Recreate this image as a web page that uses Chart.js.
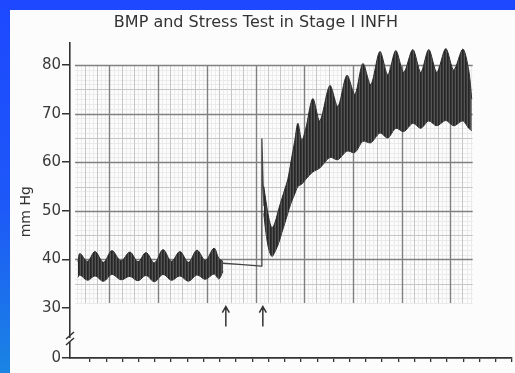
<!DOCTYPE html>
<html>
<head>
<meta charset="utf-8">
<title>BMP and Stress Test in Stage I INFH</title>
<script src="https://cdn.jsdelivr.net/npm/chart.js@4.4.0/dist/chart.umd.min.js"></script>
<style>
  html, body { margin: 0; padding: 0; }
  body {
    width: 515px; height: 373px; overflow: hidden; position: relative;
    background: linear-gradient(180deg, #1d48ff 0%, #1d58f8 55%, #1a84e3 100%);
  }
  #paper { position: absolute; left: 10px; top: 10px; right: 0; bottom: 0; background: #fcfcfc; }
  #bmpChart { position: absolute; left: 0; top: 0; }
</style>
</head>
<body>
<div id="paper"></div>
<canvas id="bmpChart" width="515" height="373"></canvas>
<script>
// axis ticks (0 sits below the axis break)
const yTicks = [0, 30, 40, 50, 60, 70, 80];
const xTicks = [0, 1, 2, 3, 4, 5, 6, 7, 8, 9, 10, 11, 12, 13, 14, 15, 16, 17, 18, 19, 20, 21, 22, 23, 24, 25, 26];
const yBreak = 19.7;   // where "0" lands on the compressed part of the axis

// resting trace (band = top / bottom of the pulse envelope)
const restX  = [-0.74, -0.62, -0.15, 0.31, 0.83, 1.35, 1.91, 2.46, 2.96, 3.45, 3.97, 4.50, 5.02, 5.54, 6.07, 6.59, 7.11, 7.64, 7.94, 8.19];
const restHi = [39.5, 41.2, 39.6, 41.6, 39.4, 41.8, 39.7, 41.5, 39.5, 41.4, 39.3, 42.0, 39.6, 41.6, 39.4, 41.9, 39.8, 42.3, 40.2, 39.6];
const restLo = [36.3, 36.8, 35.7, 36.6, 35.5, 36.9, 35.8, 36.5, 35.6, 36.7, 35.4, 36.9, 35.7, 36.6, 35.5, 36.8, 35.9, 37.0, 36.0, 37.5];

// thin pen line between the arrows, with the spike
const penX = [8.19, 9.40, 10.55, 10.59, 10.66, 10.72];
const penY = [39.2, 38.9, 38.6, 64.9, 56.0, 51.0];

// stress response band
const stressX  = [10.71, 10.84, 11.02, 11.21, 11.39, 11.64, 11.82, 12.01, 12.19, 12.38, 12.62, 12.81, 13.05, 13.30, 13.73, 14.16, 14.78, 15.27, 15.83, 16.32, 16.81, 17.30, 17.86, 18.35, 18.84, 19.33, 19.89, 20.38, 20.87, 21.37, 21.92, 22.41, 22.97, 23.33, 23.52];
const stressHi = [55.0, 52.0, 48.5, 46.5, 47.5, 50.5, 52.5, 54.5, 56.5, 60.0, 64.5, 68.0, 64.5, 67.0, 73.1, 68.5, 75.8, 71.5, 77.9, 74.0, 80.3, 76.0, 82.8, 78.0, 83.0, 78.5, 83.2, 78.5, 83.2, 78.5, 83.4, 79.0, 83.3, 79.0, 73.0];
const stressLo = [49.5, 45.5, 42.0, 40.6, 41.5, 43.5, 45.5, 47.5, 49.5, 51.5, 53.5, 55.0, 55.5, 56.5, 58.0, 58.8, 61.0, 60.5, 62.3, 62.0, 64.3, 64.0, 66.0, 65.0, 67.0, 66.3, 68.0, 67.0, 68.5, 67.5, 68.6, 67.5, 68.5, 67.0, 66.5];

// event markers
const arrowX = [8.37, 10.65];

const FONT = 'DejaVu Sans';
const INK = '#333';

const canvas = document.getElementById('bmpChart');

function stripePattern() {
  const c = document.createElement('canvas');
  c.width = 3; c.height = 1;
  const g = c.getContext('2d');
  ['#262626', '#353535', '#555555'].forEach((col, i) => { g.fillStyle = col; g.fillRect(i, 0, 1, 1); });
  return canvas.getContext('2d').createPattern(c, 'repeat');
}
const ink = stripePattern();

const pts = (xs, ys) => xs.map((x, i) => ({ x: x, y: ys[i] }));

// chart paper behind the trace: light lines first, heavy ones last
const paperGrid = {
  id: 'paperGrid',
  beforeDatasetsDraw(chart) {
    const { ctx, scales: { x, y } } = chart;
    const left = x.getPixelForValue(-0.92), right = x.getPixelForValue(23.58);
    const top = y.getPixelForValue(80), bottom = y.getPixelForValue(31);
    const levels = [
      { color: '#ebebeb', width: 1 },
      { color: '#c6c6c6', width: 1 },
      { color: '#808080', width: 1.4 }
    ];
    ctx.save();
    levels.forEach((lv, li) => {
      ctx.strokeStyle = lv.color;
      ctx.lineWidth = lv.width;
      ctx.beginPath();
      for (let k = -8; k <= 90; k++) {
        const v = 1.2 + k * 0.25;
        if (v < -0.92 || v > 23.58) continue;
        const level = k % 12 === 0 ? 2 : (k % 3 === 0 ? 1 : 0);
        if (level !== li) continue;
        const px = Math.round(x.getPixelForValue(v)) + 0.5;
        ctx.moveTo(px, top); ctx.lineTo(px, bottom);
      }
      for (let v = 31; v <= 80; v++) {
        const level = v % 10 === 0 ? 2 : (v % 5 === 0 ? 1 : 0);
        if (level !== li) continue;
        const py = Math.round(y.getPixelForValue(v)) + 0.5;
        ctx.moveTo(left, py); ctx.lineTo(right, py);
      }
      ctx.stroke();
    });
    ctx.restore();
  }
};

const markers = {
  id: 'markers',
  afterDraw(chart) {
    const { ctx, chartArea, scales: { x, y } } = chart;
    ctx.save();
    ctx.strokeStyle = INK;
    ctx.lineWidth = 1.5;
    // arrows
    arrowX.forEach(ax => {
      const px = x.getPixelForValue(ax);
      const tip = y.getPixelForValue(30.3), tail = y.getPixelForValue(26.2);
      ctx.beginPath();
      ctx.moveTo(px, tail); ctx.lineTo(px, tip);
      ctx.moveTo(px - 3.5, tip + 6); ctx.lineTo(px, tip); ctx.lineTo(px + 3.5, tip + 6);
      ctx.stroke();
    });
    // axis break
    const yb = y.getPixelForValue(23.4), ax0 = chartArea.left;
    ctx.fillStyle = '#fcfcfc';
    ctx.fillRect(ax0 - 2, yb - 2, 4, 4);
    ctx.beginPath();
    ctx.moveTo(ax0 - 4, yb - 1); ctx.lineTo(ax0 + 4, yb - 8);
    ctx.moveTo(ax0 - 4, yb + 5); ctx.lineTo(ax0 + 4, yb - 2);
    ctx.stroke();
    ctx.restore();
  }
};

new Chart(canvas.getContext('2d'), {
  type: 'line',
  data: {
    datasets: [
      { data: pts(restX, restHi), fill: '+1', backgroundColor: ink, borderColor: '#2b2b2b', borderWidth: 1, tension: 0.35 },
      { data: pts(restX, restLo), fill: false, borderColor: '#2b2b2b', borderWidth: 1, tension: 0.35 },
      { data: pts(stressX, stressHi), fill: '+1', backgroundColor: ink, borderColor: '#2b2b2b', borderWidth: 1, tension: 0.3 },
      { data: pts(stressX, stressLo), fill: false, borderColor: '#2b2b2b', borderWidth: 1, tension: 0.3 },
      { data: pts(penX, penY), fill: false, borderColor: '#444', borderWidth: 1.3, tension: 0 }
    ]
  },
  options: {
    responsive: false,
    animation: false,
    events: [],
    elements: { point: { radius: 0 } },
    layout: { padding: { left: 0, right: 3, top: 0, bottom: 0 } },
    plugins: {
      legend: { display: false },
      tooltip: { enabled: false },
      title: {
        display: true,
        text: 'BMP and Stress Test in Stage I INFH',
        color: INK,
        font: { family: FONT, size: 16, weight: 'normal' },
        padding: { top: 13, bottom: 11 }
      }
    },
    scales: {
      x: {
        type: 'linear',
        min: -1.23,
        max: 26,
        afterBuildTicks: scale => { scale.ticks = xTicks.map(v => ({ value: v })); },
        afterFit: scale => { scale.height = 15; },
        ticks: { display: false },
        grid: { drawOnChartArea: false, tickLength: 4, color: INK, lineWidth: 1.3 },
        border: { color: INK, width: 1.8 }
      },
      y: {
        type: 'linear',
        min: yBreak,
        max: 84.5,
        afterBuildTicks: scale => { scale.ticks = yTicks.map(v => ({ value: v === 0 ? yBreak : v })); },
        afterFit: scale => { scale.width = 70; },
        ticks: {
          padding: 1,
          color: '#3a3a3a',
          font: { family: FONT, size: 15 },
          callback: v => (v < 30 ? '0' : v)
        },
        grid: { drawOnChartArea: false, tickLength: 8, color: INK, lineWidth: 1.5 },
        border: { color: INK, width: 1.6 },
        title: {
          display: true,
          text: 'mm Hg     ',
          color: INK,
          font: { family: FONT, size: 14 },
          padding: { top: 18, bottom: 0 }
        }
      }
    }
  },
  plugins: [paperGrid, markers]
});
</script>
</body>
</html>
